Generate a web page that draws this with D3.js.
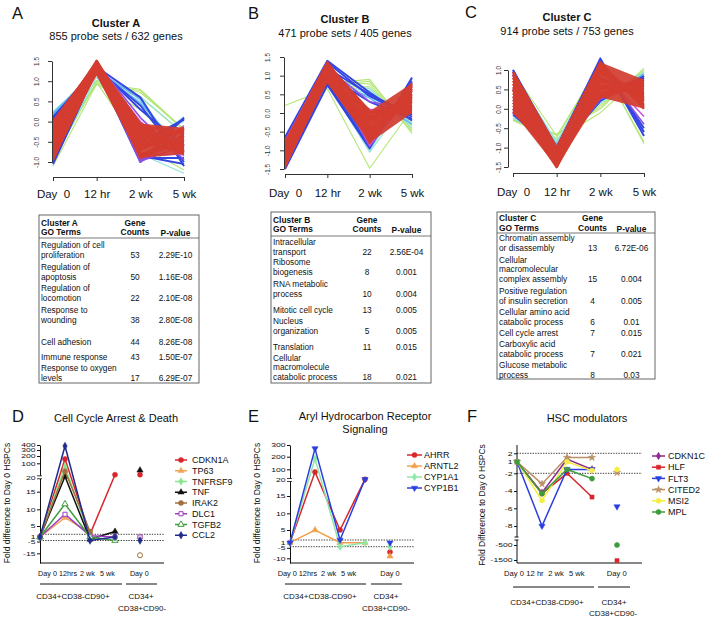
<!DOCTYPE html>
<html><head><meta charset="utf-8">
<script src="https://cdn.jsdelivr.net/npm/d3@7"></script>
<style>body{margin:0;background:#fff}svg{display:block}</style>
</head><body><script>
// ================= DATA =================
const timeLabels = ["Day  0","12 hr","2 wk","5 wk"];
const clusterTitles = ["Cluster A","Cluster B","Cluster C"];
const clusterSubtitles = ["855 probe sets / 632 genes","471 probe sets / 405 genes","914 probe sets / 753 genes"];
const yTicksA = [-1.0,-0.5,0.0,0.5,1.0,1.5];
const yTicksB = [-1.5,-1.0,-0.5,0.0,0.5,1.0,1.5];
const yTicksC = [-1.5,-1.0,-0.5,0.0,0.5,1.0];
// [membership rank 0..6, Day0, 12hr, 2wk, 5wk]
const profilesA = [
 [0,-0.75,0.95,0.8,-0.2],[0,-0.55,0.92,0.77,-0.22],[0,-0.95,1.0,0.72,-0.18],[0,-0.4,1.02,0.6,-0.3],[0,-0.85,0.97,-0.6,-1.2],[0,-1.1,0.93,0.3,-0.8],
 [1,0.25,1.2,0.6,-0.95],[1,0.2,1.15,0.5,-1.05],[1,-1.0,1.1,-0.5,0.0],[1,0.15,1.25,-0.8,-1.28],[1,-0.6,1.2,-0.7,0.12],[1,0.22,1.22,0.62,-0.3],
 [2,0.2,1.3,0.45,-0.7],[2,-1.05,1.25,-0.6,0.05],[2,0.1,1.3,-0.95,-0.5],[2,0.18,1.28,0.55,-1.1],
 [3,0.1,1.35,0.6,-1.1],[3,-1.05,1.3,-1.0,0.1],[3,0.05,1.4,-0.9,-0.9],[3,-1.0,1.35,0.3,-0.6],[3,0.12,1.25,-0.5,0.05],[3,-0.9,1.3,-0.85,-1.05],[3,0.08,1.3,0.4,-1.0],[3,-1.02,1.28,-0.7,0.08],
 [4,-0.9,1.35,-1.0,-0.3],[4,0.0,1.4,-0.95,-0.2],[4,-0.2,1.45,0.1,-0.95],[4,-0.6,1.38,-0.98,-0.6],
 [5,-0.05,1.45,-0.85,-0.8],[5,-0.95,1.4,0.0,-0.85],[5,-0.4,1.42,-0.9,-0.1],
 [6,0.0,1.45,-0.05,-0.75],[6,-0.07,1.3,-0.3,-0.5],[6,-0.14,1.5,-0.6,-0.2],[6,-0.21,1.2,-0.85,-0.35],[6,-0.28,1.4,-0.15,-0.6],
 [6,-0.35,1.35,-0.45,-0.8],[6,-0.42,1.25,-0.7,-0.15],[6,-0.49,1.45,-0.9,-0.45],[6,-0.56,1.3,-0.1,-0.3],[6,-0.63,1.5,-0.35,-0.7],
 [6,-0.7,1.2,-0.55,-0.25],[6,-0.77,1.4,-0.8,-0.55],[6,-0.84,1.35,-0.25,-0.65],[6,-0.91,1.25,-0.65,-0.4],[6,-0.95,1.45,-0.4,-0.2],[6,-0.5,1.5,-0.2,-0.75]
];
const profilesB = [
 [0,0.2,0.65,-1.48,0.1],[0,-0.9,0.8,0.9,-0.55],[0,-1.1,0.75,0.85,-0.45],[0,-0.7,0.85,0.78,-0.5],[0,-1.3,0.7,0.7,-0.35],
 [1,-1.4,0.8,-1.05,0.5],[1,-0.8,0.9,0.65,-0.4],[1,-1.0,0.75,0.6,-0.3],[1,-1.3,0.85,0.5,-0.25],[1,-0.75,0.8,-1.0,0.7],
 [2,-0.7,0.8,0.45,-0.2],[2,-1.5,0.8,-0.85,0.9],[2,-1.2,0.9,0.4,-0.3],
 [3,-0.65,1.4,0.55,-0.2],[3,-1.5,0.75,-0.95,0.95],[3,-0.7,0.8,-0.9,0.85],[3,-1.45,1.35,0.45,-0.1],[3,-1.0,1.0,0.3,-0.15],[3,-0.68,1.2,0.5,-0.05],[3,-1.48,0.9,-0.8,0.8],
 [4,-0.8,1.3,-0.9,0.6],[4,-1.4,1.2,0.3,0.1],[4,-1.0,1.35,-0.7,0.65],
 [5,-0.75,1.35,-0.6,0.75],[5,-1.45,0.95,0.1,0.0],[5,-1.2,1.1,-0.85,0.5],
 [6,-0.8,1.35,-0.8,0.75],[6,-0.85,1.1,-0.4,0.4],[6,-0.9,0.9,0.0,0.05],[6,-0.95,1.25,-0.6,0.6],[6,-1.0,1.0,-0.2,0.2],
 [6,-1.05,1.3,0.05,0.0],[6,-1.1,0.85,-0.7,0.8],[6,-1.15,1.15,-0.3,0.5],[6,-1.2,0.95,-0.5,0.3],[6,-1.25,1.35,-0.1,0.15],
 [6,-1.3,1.05,-0.75,0.7],[6,-1.35,1.2,-0.45,0.45],[6,-1.4,0.9,-0.15,0.1],[6,-1.45,1.3,-0.65,0.65],[6,-1.1,1.2,0.0,0.35]
];
const profilesC = [
 [0,-0.3,-0.65,0.0,1.05],[0,-0.2,-0.75,1.2,-0.9],[0,-0.25,-0.85,0.1,0.95],[0,0.95,-0.7,1.15,-0.85],[0,-0.3,-0.8,-0.1,0.9],[0,-0.28,-0.68,0.05,1.0],
 [1,-0.2,-0.9,0.15,0.85],[1,0.9,-0.85,1.2,-0.7],[1,-0.15,-0.95,0.2,0.95],[1,-0.25,-0.8,0.3,0.7],
 [2,0.95,-0.95,1.25,-0.6],[2,-0.1,-1.0,0.25,0.8],[2,0.2,-0.9,0.2,0.9],
 [3,1.0,-1.0,1.3,-0.7],[3,-0.15,-1.1,0.2,0.85],[3,0.95,-1.05,0.25,0.75],[3,-0.1,-1.0,1.25,-0.6],[3,0.5,-1.1,0.3,0.8],[3,0.0,-1.05,1.2,-0.5],[3,1.0,-1.08,0.22,0.8],
 [4,0.9,-1.2,0.3,0.6],[4,-0.05,-1.15,1.1,-0.4],[4,0.3,-1.2,0.25,0.7],
 [5,0.0,-1.3,0.5,0.65],[5,0.85,-1.25,1.0,-0.2],[5,-0.08,-1.25,0.35,0.6],
 [6,0.95,-1.0,1.2,0.0],[6,0.88,-1.3,0.9,0.4],[6,0.8,-1.5,0.5,0.75],[6,0.72,-1.1,0.3,0.6],[6,0.64,-1.4,1.0,0.2],
 [6,0.56,-1.2,0.7,0.5],[6,0.48,-1.45,1.15,0.1],[6,0.4,-1.05,0.4,0.7],[6,0.32,-1.35,0.8,0.3],[6,0.24,-1.25,0.6,0.55],
 [6,0.16,-1.5,1.1,0.05],[6,0.08,-1.15,0.35,0.65],[6,0.0,-1.4,0.95,0.25],[6,-0.08,-1.2,0.55,0.45],[6,0.5,-1.3,0.75,0.35]
];

// GO term tables
const tableHeaders = [["Cluster A","GO Terms"],["Cluster B","GO Terms"],["Cluster C","GO Terms"]];
const termsA = [["Regulation of cell","proliferation"],["Regulation of","apoptosis"],["Regulation of","locomotion"],["Response to","wounding"],["Cell adhesion"],["Immune response"],["Response to oxygen","levels"]];
const countsA = [53,50,22,38,44,43,17];
const pvalsA = ["2.29E-10","1.16E-08","2.10E-08","2.80E-08","8.26E-08","1.50E-07","6.29E-07"];
const termsB = [["Intracellular","transport"],["Ribosome","biogenesis"],["RNA metabolic","process"],["Mitotic cell cycle"],["Nucleus","organization"],["Translation"],["Cellular","macromolecule","catabolic process"]];
const countsB = [22,8,10,13,5,11,18];
const pvalsB = ["2.56E-04","0.001","0.004","0.005","0.005","0.015","0.021"];
const termsC = [["Chromatin assembly","or disassembly"],["Cellular","macromolecular","complex assembly"],["Positive regulation","of insulin secretion"],["Cellular amino acid","catabolic process"],["Cell cycle arrest"],["Carboxylic acid","catabolic process"],["Glucose metabolic","process"]];
const countsC = [13,15,4,6,7,7,8];
const pvalsC = ["6.72E-06","0.004","0.005","0.01","0.015","0.021","0.03"];

// Fold-change panels
const foldCats = ["d0","h12","w2","w5","d0b"];
const foldLabelsD = ["Day 0","12hrs","2 wk","5 wk","Day 0"];
const foldLabelsE = ["Day 0","12hrs","2 wk","5 wk","Day 0"];
const foldLabelsF = ["Day 0","12 hr","2 wk","5 wk","Day 0"];
const groupLabels = ["CD34+CD38-CD90+","CD34+","CD38+CD90-"];

const genesD = ["CDKN1A","TP63","TNFRSF9","TNF","IRAK2","DLC1","TGFB2","CCL2"];
const timeD = [[1,160,2,35],[1,7.5,2.5,null],[1,80,1,null],[1,25,-1,3],[1,55,3,null],[1,8.5,1.5,1],[1,11.5,1,-2],[1,380,-2,1]];
const otherD = [35,1,null,60,-16,1,null,-2];
const ticksD = [400,300,200,100,20,15,10,5,1,-5,-15];

const genesE = ["AHRR","ARNTL2","CYP1A1","CYP1B1"];
const timeE = [[1,80,5,25],[1,5,1,1],[1,185,-2,1],[1,270,2,25]];
const otherE = [-7,-9,-2,1];
const ticksE = [300,200,100,20,15,10,5,1,-5,-10];

const genesF = ["CDKN1C","HLF","FLT3","CITED2","MSI2","MPL"];
const timeF = [[1,-4.2,1.3,-1],[1,-4.3,-2,-4.7],[1,-8.1,-1,-1],[1,-3.2,1.5,1.5],[1,-5.1,1,-1.3],[1,-4.3,-1,-2.6]];
const otherF = [null,-1600,-5.8,-1.8,-1,-500];
const ticksF = [2,1,-2,-4,-6,-8,-500,-1500];

// ================= DRAWING =================
const FONT = '"Liberation Sans", Arial, Helvetica, sans-serif';
const svg = d3.select("body").append("svg").attr("width",707).attr("height",617)
  .style("font-family",FONT);
svg.append("rect").attr("width",707).attr("height",617).attr("fill","#fff");

function txt(g,x,y,s,size,opts={}){
  const t=g.append("text").attr("font-size",size).attr("fill","#111").text(s);
  if(opts.sy){ t.attr("transform",`translate(${x},${y}) scale(1,${opts.sy})`); }
  else { t.attr("x",x).attr("y",y); }
  if(opts.anchor) t.attr("text-anchor",opts.anchor);
  if(opts.bold) t.attr("font-weight","bold");
  return t;
}

// panel letters
[["A",12,18.5],["B",248,18.5],["C",465,18],["D",12,422],["E",248,422],["F",467,422]]
  .forEach(([l,x,y])=>txt(svg,x,y,l,16.5));

// ---- cluster panels ----
const memberColors = ["#b4e676","#8fe2dc","#62b5f2","#3545e2","#8d50e6","#cc58d6","#d33c2f"];
const memberWidth = [1.1,1.1,1.4,1.9,1.6,1.6,2.4];
const clusterCfg = [
  {x0:53,x1:184,dom:[-1,1.5],rng:[162,61],axX:52,axY:177,labOff:13.5,cx:116,ty:26.5,sy:40,lblY:198},
  {x0:285,x1:412,dom:[-1.5,1.5],rng:[169,57],axX:284,axY:174,labOff:14.5,cx:345,ty:23.3,sy:36.5,lblY:197},
  {x0:513,x1:644,dom:[-1.5,1.0],rng:[167,70],axX:508,axY:173,labOff:7.5,cx:567,ty:21,sy:34.5,lblY:196}
];
function drawCluster(cfg, profiles, yTicks, title, subtitle){
  const g = svg.append("g");
  const x = d3.scalePoint().domain(timeLabels).range([cfg.x0,cfg.x1]);
  const y = d3.scaleLinear().domain(cfg.dom).range(cfg.rng);
  const line = d3.line().x((v,i)=>x(timeLabels[i])).y(v=>y(v));
  const sorted = profiles.slice().sort((a,b)=>a[0]-b[0]);
  sorted.filter(p=>p[0]<6).forEach(p=>{
    g.append("path").attr("d",line(p.slice(1))).attr("fill","none")
     .attr("stroke",memberColors[p[0]]).attr("stroke-width",memberWidth[p[0]]).attr("stroke-linejoin","round");
  });
  const red = profiles.filter(p=>p[0]===6);
  const band = timeLabels.map((t,i)=>({t,lo:d3.min(red,p=>p[i+1]),hi:d3.max(red,p=>p[i+1])}));
  g.append("path").attr("d",d3.area().x(d=>x(d.t)).y0(d=>y(d.lo)).y1(d=>y(d.hi))(band))
    .attr("fill",memberColors[6]).attr("opacity",0.92);
  red.forEach(p=>{
    g.append("path").attr("d",line(p.slice(1))).attr("fill","none")
     .attr("stroke",memberColors[6]).attr("stroke-width",memberWidth[6]).attr("stroke-linejoin","round");
  });
  // y axis
  const ya = g.append("g").attr("transform",`translate(${cfg.axX},0)`)
    .call(d3.axisLeft(y).tickValues(yTicks).tickSize(4).tickSizeOuter(0).tickFormat(d=>d.toFixed(1)));
  ya.attr("font-family",FONT).attr("font-size",6.3);
  ya.selectAll("path,line").attr("stroke","#333");
  ya.selectAll(".tick text").attr("x",0).attr("dy",0).attr("text-anchor","middle").attr("fill","#333")
    .attr("transform",`translate(${-cfg.labOff},0) rotate(-90)`);
  // x axis
  const xa = g.append("g").attr("transform",`translate(0,${cfg.axY})`)
    .call(d3.axisBottom(x).tickSize(4).tickSizeOuter(0));
  xa.attr("font-family",FONT).attr("font-size",11.5);
  xa.selectAll("path,line").attr("stroke","#333");
  xa.selectAll(".tick text").attr("y",cfg.lblY-cfg.axY).attr("dy",0).attr("fill","#111")
    .style("white-space","pre");
  txt(g,cfg.cx,cfg.ty,title,11,{anchor:"middle",bold:true});
  txt(g,cfg.cx,cfg.sy,subtitle,11,{anchor:"middle"});
}
drawCluster(clusterCfg[0],profilesA,yTicksA,clusterTitles[0],clusterSubtitles[0]);
drawCluster(clusterCfg[1],profilesB,yTicksB,clusterTitles[1],clusterSubtitles[1]);
drawCluster(clusterCfg[2],profilesC,yTicksC,clusterTitles[2],clusterSubtitles[2]);

// ---- tables ----
const tableCfg = [
  {box:[39,215,199,383],hl:238,hb:[226,235],tx:41,cx:135,px:175.5,rows:[258,280,301,323,345,360,381]},
  {box:[271,212,431,383],hl:236,hb:[223,232],tx:273,cx:367,px:406.5,rows:[255,275,297,313,334,350,380]},
  {box:[497,212,655,379],hl:233,hb:[221,231],tx:499,cx:592.5,px:631.5,rows:[251,282,304,325,336,357,378]}
];
function drawTable(cfg, header, terms, counts, pvals){
  const g = svg.append("g");
  const [x0,y0,x1,y1]=cfg.box;
  g.append("rect").attr("x",x0).attr("y",y0).attr("width",x1-x0).attr("height",y1-y0)
    .attr("fill","none").attr("stroke","#555").attr("stroke-width",0.9);
  g.append("line").attr("x1",x0).attr("x2",x1).attr("y1",cfg.hl).attr("y2",cfg.hl).attr("stroke","#555").attr("stroke-width",0.8);
  txt(g,cfg.tx,cfg.hb[0],header[0],8.4,{bold:true});
  txt(g,cfg.tx,cfg.hb[1],header[1],8.4,{bold:true});
  txt(g,cfg.cx,cfg.hb[0],"Gene",8.4,{bold:true,anchor:"middle"});
  txt(g,cfg.cx,cfg.hb[1],"Counts",8.4,{bold:true,anchor:"middle"});
  txt(g,cfg.px,cfg.hb[1]+1,"P-value",8.4,{bold:true,anchor:"middle"});
  const LH=9.6;
  terms.forEach((lines,i)=>{
    const b=cfg.rows[i];
    lines.forEach((s,j)=>txt(g,cfg.tx,b-(lines.length-1-j)*LH,s,8.3));
    txt(g,cfg.cx,b,String(counts[i]),8.3,{anchor:"middle"});
    txt(g,cfg.px,b,pvals[i],8.3,{anchor:"middle"});
  });
}
drawTable(tableCfg[0],tableHeaders[0],termsA,countsA,pvalsA);
drawTable(tableCfg[1],tableHeaders[1],termsB,countsB,pvalsB);
drawTable(tableCfg[2],tableHeaders[2],termsC,countsC,pvalsC);

// ---- fold-change panels ----
const SQ = 0.68; // vertical squash of tick text in the lower row
const sym = {circle:d3.symbolCircle,tri:d3.symbolTriangle,dia:d3.symbolDiamond,sq:d3.symbolSquare,star:d3.symbolStar,cross:d3.symbolCross};
const foldCfg = [
  {x0:40,axLen:124,dom:[-20,-15,-5,-2,1,2,5,10,15,20,100,200,300,400],
   rng:[563,553.3,541.5,540.5,537,534.3,526,509.3,491.7,477.3,463.3,456,450,445],
   ticks:ticksD,dotted:[2,-2],brk:20,labelsX:[47.5,68,87.5,107.5,139.3],labels:foldLabelsD,labSize:7.2,
   colors:["#d9262c","#f2a55a","#86e58c","#111111","#a2703c","#9c3fbf","#3f9b3f","#1f2b8c"],
   shapes:["circle","tri","dia","tri","circle","sq","tri","dia"],open:[false,false,false,false,false,true,true,false],
   otherOpen:[false,false,false,false,true,false,false,false],
   title:["Cell Cycle Arrest & Death"],titleX:116,titleY:[422],
   legX:[175,187,192],legY:460,legStep:10.75,yl:"Fold difference to Day 0 HSPCs",ylX:10,ylY:503,
   grpY:584,grpLines:[[40,122],[126,157]],grpX:[73,141,142],grpTY:[599,599,611]},
  {x0:290,axLen:124,dom:[-12,-10,-5,-2,1,2,5,10,15,20,100,200,300],
   rng:[563,558.3,547.8,546.7,542.7,540,530,513.3,496,480,469.3,456.7,445],
   ticks:ticksE,dotted:[2,-2],brk:20,labelsX:[287.3,308,328.7,348.7,390],labels:foldLabelsE,labSize:7.4,
   colors:["#d9262c","#f0a04b","#8ce8a4","#2b3fe0"],
   shapes:["circle","tri","dia","itri"],open:[false,false,false,false],otherOpen:[false,false,false,false],
   title:["Aryl Hydrocarbon Receptor","Signaling"],titleX:365,titleY:[420,433],
   legX:[407,422,424],legY:455,legStep:11,yl:"Fold difference to Day 0 HSPCs",ylX:260,ylY:503,
   grpY:584,grpLines:[[285,366],[371,402]],grpX:[320,386,386],grpTY:[599,599,611]},
  {x0:517,axLen:125,dom:[-2000,-1500,-500,-8,-6,-4,-2,1,2,2.6],
   rng:[563,560,545,526,508.3,491,473.3,461.7,453.3,445],
   ticks:ticksF,dotted:[2,-2],brkF:[537,540],labelsX:[514,535,556,576.7,616.7],labels:foldLabelsF,labSize:7.6,
   colors:["#8e2b8e","#d9262c","#2b3fe0","#b99069","#f3ee45","#3d9b3d"],
   shapes:["dia","sq","itri","star","circle","circle"],open:[false,false,false,false,false,false],otherOpen:[false,false,false,false,false,false],
   title:["HSC modulators"],titleX:587,titleY:[422],
   legX:[652,665,668],legY:456,legStep:11.2,yl:"Fold Difference to Day 0 HSPCs",ylX:485,ylY:505,
   grpY:587,grpLines:[[513,594],[598,630]],grpX:[547,614,613],grpTY:[605,605,616]}
];
function symPath(shape,size){
  const t = shape==="itri"?sym.tri:sym[shape];
  return d3.symbol().type(t).size(size)();
}
function drawFold(cfg, genes, timeVals, otherVals){
  const g = svg.append("g");
  const x = d3.scalePoint().domain(foldCats).range([cfg.x0,cfg.x0+100]);
  const y = d3.scaleLinear().domain(cfg.dom).range(cfg.rng);
  cfg.dotted.forEach(v=>g.append("line").attr("x1",cfg.x0).attr("x2",cfg.x0+cfg.axLen)
    .attr("y1",y(v)).attr("y2",y(v)).attr("stroke","#111").attr("stroke-width",0.8).attr("stroke-dasharray","1.4,1.2"));
  // y axis
  const ya = g.append("g").attr("transform",`translate(${cfg.x0},0)`)
    .call(d3.axisLeft(y).tickValues(cfg.ticks).tickSize(3).tickSizeOuter(0).tickPadding(1.5).tickFormat(d=>String(d)));
  ya.attr("font-family",FONT).attr("font-size",8.6);
  ya.selectAll("line").attr("stroke","#111");
  ya.selectAll(".tick text").attr("fill","#111").attr("transform",`scale(1,${SQ})`);
  if(cfg.brkF){
    ya.select(".domain").remove();
    g.append("line").attr("x1",cfg.x0).attr("x2",cfg.x0).attr("y1",cfg.rng[cfg.rng.length-1]).attr("y2",cfg.brkF[0]).attr("stroke","#111");
    g.append("line").attr("x1",cfg.x0).attr("x2",cfg.x0).attr("y1",cfg.brkF[1]).attr("y2",cfg.rng[0]).attr("stroke","#111");
    g.append("line").attr("x1",cfg.x0-2.5).attr("x2",cfg.x0+1.5).attr("y1",cfg.brkF[0]).attr("y2",cfg.brkF[0]).attr("stroke","#111");
    g.append("line").attr("x1",cfg.x0-2.5).attr("x2",cfg.x0+1.5).attr("y1",cfg.brkF[1]).attr("y2",cfg.brkF[1]).attr("stroke","#111");
  } else {
    ya.select(".domain").attr("stroke","#111");
    const by=y(cfg.brk);
    g.append("rect").attr("x",cfg.x0-3).attr("y",by-1.5).attr("width",5).attr("height",3).attr("fill","#fff");
    [by-1.5,by+1.5].forEach(v=>g.append("line").attr("x1",cfg.x0-3).attr("x2",cfg.x0+2).attr("y1",v).attr("y2",v).attr("stroke","#111").attr("stroke-width",0.8));
  }
  // x axis line
  g.append("line").attr("x1",cfg.x0).attr("x2",cfg.x0+cfg.axLen).attr("y1",563).attr("y2",563).attr("stroke","#111");
  cfg.labels.forEach((s,i)=>txt(g,cfg.labelsX[i],575.5,s,cfg.labSize,{anchor:"middle"}));
  // series
  const line = d3.line().defined(d=>d!=null).x((d,i)=>x(foldCats[i])).y(d=>y(d));
  genes.forEach((gn,k)=>{
    const c=cfg.colors[k];
    g.append("path").attr("d",line(timeVals[k])).attr("fill","none").attr("stroke",c).attr("stroke-width",1.5);
    const pts = timeVals[k].map((v,i)=>({v,i,open:cfg.open[k]})).filter(d=>d.v!=null);
    if(otherVals[k]!=null) pts.push({v:otherVals[k],i:4,open:cfg.open[k]||cfg.otherOpen[k]});
    pts.forEach(d=>{
      const rot = cfg.shapes[k]==="itri"?" rotate(180)":"";
      g.append("path").attr("d",symPath(cfg.shapes[k],cfg.shapes[k]==="circle"?20:17))
       .attr("transform",`translate(${x(foldCats[d.i])},${y(d.v)})${rot}`)
       .attr("fill",d.open?"#fff":c).attr("stroke",c).attr("stroke-width",d.open?1:0.5);
    });
    // legend
    const ly = cfg.legY + k*cfg.legStep;
    g.append("line").attr("x1",cfg.legX[0]).attr("x2",cfg.legX[1]).attr("y1",ly).attr("y2",ly).attr("stroke",c).attr("stroke-width",1.5);
    const rot = cfg.shapes[k]==="itri"?" rotate(180)":"";
    g.append("path").attr("d",symPath(cfg.shapes[k],cfg.shapes[k]==="circle"?20:17))
      .attr("transform",`translate(${(cfg.legX[0]+cfg.legX[1])/2},${ly})${rot}`)
      .attr("fill",cfg.open[k]?"#fff":c).attr("stroke",c).attr("stroke-width",cfg.open[k]?1:0.5);
    txt(g,cfg.legX[2],ly+3.2,gn,9);
  });
  // titles
  cfg.title.forEach((s,i)=>txt(g,cfg.titleX,cfg.titleY[i],s,11,{anchor:"middle"}));
  // y label
  g.append("text").attr("transform",`translate(${cfg.ylX},${cfg.ylY}) rotate(-90)`)
    .attr("text-anchor","middle").attr("font-size",8.5).attr("fill","#111").text(cfg.yl);
  // group lines & labels
  cfg.grpLines.forEach(([a,b])=>g.append("line").attr("x1",a).attr("x2",b).attr("y1",cfg.grpY).attr("y2",cfg.grpY).attr("stroke","#111").attr("stroke-width",1));
  groupLabels.forEach((s,i)=>txt(g,cfg.grpX[i],cfg.grpTY[i],s,8,{anchor:"middle"}));
}
drawFold(foldCfg[0],genesD,timeD,otherD);
drawFold(foldCfg[1],genesE,timeE,otherE);
drawFold(foldCfg[2],genesF,timeF,otherF);
</script></body></html>
